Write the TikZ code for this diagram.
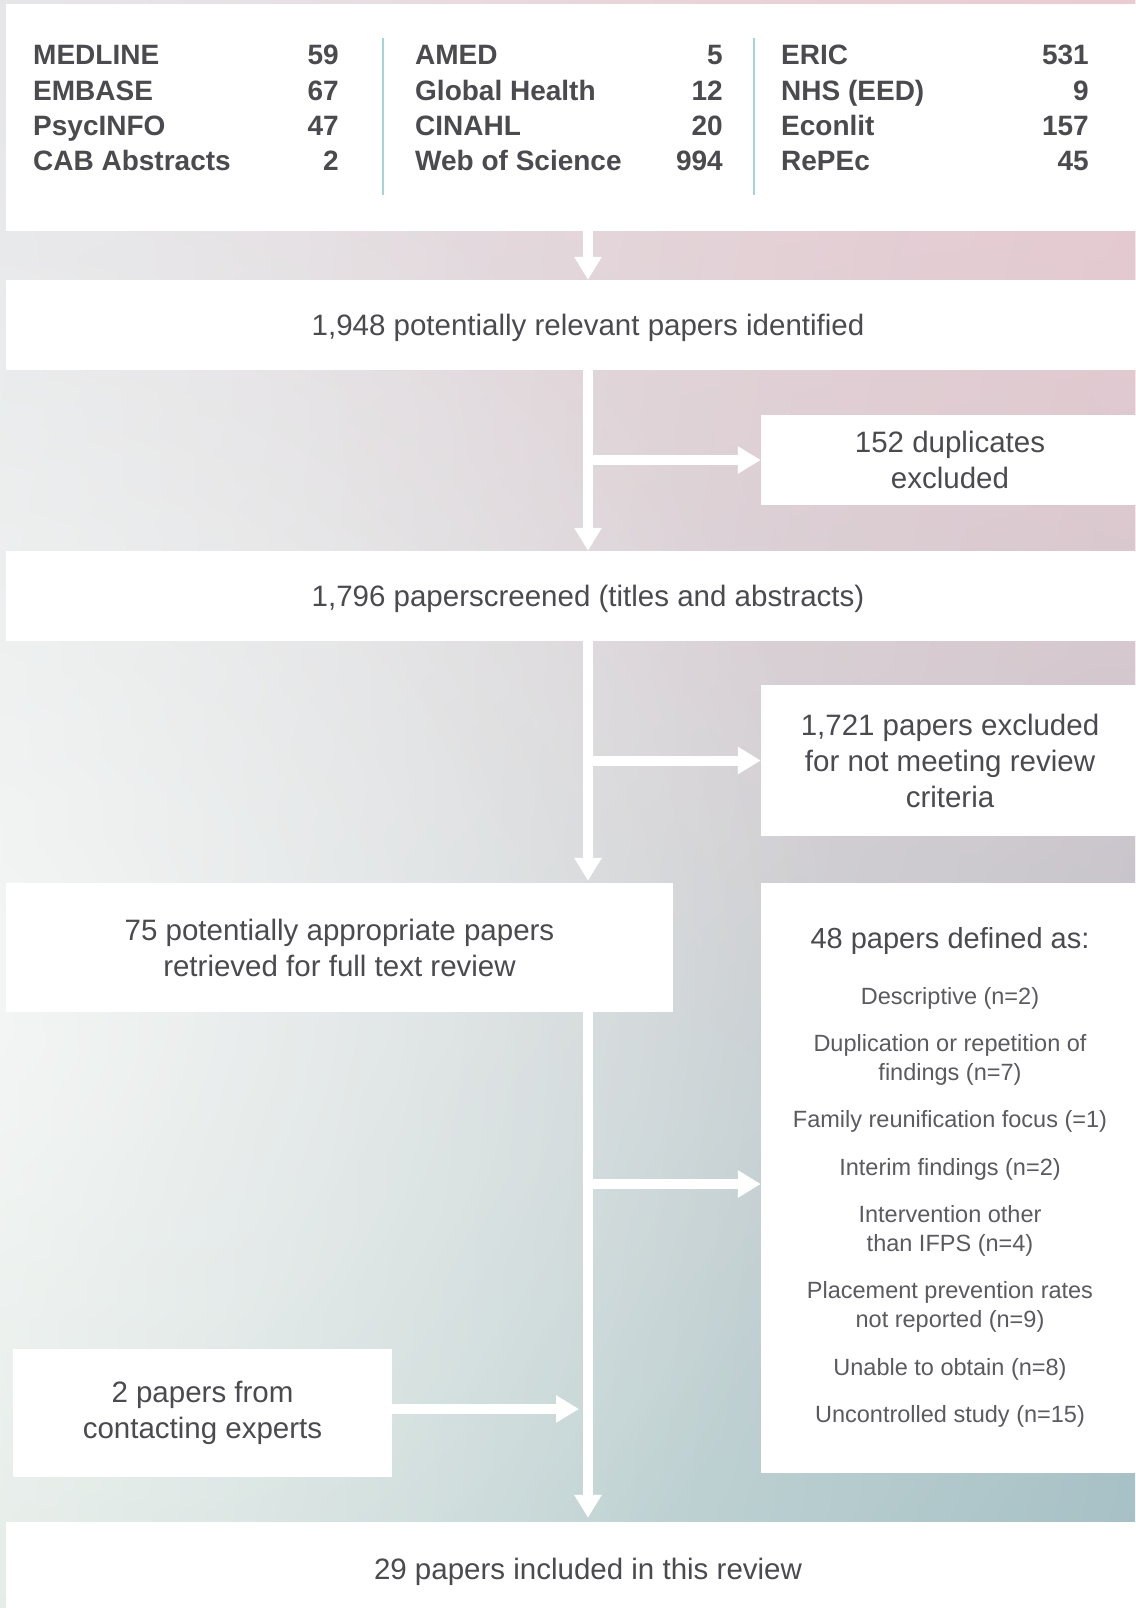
\documentclass[tikz,border=0pt]{standalone}
\usepackage{fontspec}
\setmainfont{Liberation Sans}
\usepackage{tikz}
\usepackage{xcolor}
\usetikzlibrary{arrows.meta}
\usetikzlibrary{shadings}
\usetikzlibrary{fadings}

\definecolor{inktext}{HTML}{4A4A4F}
\definecolor{inklight}{HTML}{5A5A5F}
\definecolor{rulecol}{HTML}{A3D6DA}
\definecolor{bgtl}{HTML}{E6E6E9}
\definecolor{bgtr}{HTML}{EBCBD2}
\definecolor{bgbl}{HTML}{DFE9E3}
\definecolor{bgbr}{HTML}{A2C0C5}

\tikzfading[name=glowfade, inner color=transparent!0, outer color=transparent!100]

\newcommand{\flowbody}{\fontsize{29.5}{36}\selectfont}
\newcommand{\dbfont}{\fontsize{28}{34}\selectfont\bfseries}
\newcommand{\whyhead}{\fontsize{29}{34}\selectfont}
\newcommand{\whyfont}{\fontsize{23.5}{29}\selectfont}

\tikzset{
  box/.style={fill=white, inner sep=0pt, text=inktext, align=center, font=\flowbody},
  lowtext/.style={text depth=0pt},
  flow/.style={draw=white, line width=10pt, -{Triangle[width=26pt,length=23pt]}},
  dbname/.style={anchor=base west, inner sep=0pt, text=inktext, font=\dbfont},
  dbnum/.style={anchor=base east, inner sep=0pt, text=inktext, font=\dbfont},
  why/.style={inner sep=0pt, text=inklight, align=center, font=\whyfont},
}

\begin{document}
\begin{tikzpicture}[x=1pt, y=-1pt]
  \useasboundingbox (0,0) rectangle (1135,1608);
  % background
  \shade[upper left=bgtl, upper right=bgtr, lower left=bgbl, lower right=bgbr]
    (0,0) rectangle (1135,1608);
  \fill[bgtr, opacity=0.45, path fading=glowfade] (1180,320) circle[radius=850pt];
  \fill[white, opacity=0.65, path fading=glowfade] (-100,980) circle[radius=950pt];

  % boxes
  \node[box, minimum width=1164pt, minimum height=227pt] (sources) at (588,117.5) {};
  \node[box, lowtext, minimum width=1164pt, minimum height=90pt] (ident) at (588,325)
    {1,948 potentially relevant papers identified};
  \node[box, minimum width=378pt, minimum height=90pt] (dup) at (950,460)
    {152 duplicates\\excluded};
  \node[box, lowtext, minimum width=1164pt, minimum height=90pt] (screen) at (588,596)
    {1,796 paperscreened (titles and abstracts)};
  \node[box, minimum width=378pt, minimum height=151pt] (excl) at (950,760.5)
    {1,721 papers excluded\\for not meeting review\\criteria};
  \node[box, minimum width=667pt, minimum height=129pt] (full) at (339.5,947.5)
    {75 potentially appropriate papers\\retrieved for full text review};
  \node[box, minimum width=378pt, minimum height=590pt] (defined) at (950,1178) {};
  \node[box, minimum width=379pt, minimum height=128pt] (experts) at (202.5,1413)
    {2 papers from\\contacting experts};
  \node[box, lowtext, minimum width=1164pt, minimum height=94pt] (incl) at (588,1569)
    {29 papers included in this review};

  % databases
  \foreach \name/\num [count=\r] in {MEDLINE/59, EMBASE/67, PsycINFO/47, CAB Abstracts/2} {
    \node[dbname] (dba\r) at (33,29.7+35.3*\r) {\name};
    \node[dbnum] (dban\r) at (339,29.7+35.3*\r) {\num};
  }
  \foreach \name/\num [count=\r] in {AMED/5, Global Health/12, CINAHL/20, Web of Science/994} {
    \node[dbname] (dbb\r) at (415,29.7+35.3*\r) {\name};
    \node[dbnum] (dbbn\r) at (723,29.7+35.3*\r) {\num};
  }
  \foreach \name/\num [count=\r] in {ERIC/531, NHS (EED)/9, Econlit/157, RePEc/45} {
    \node[dbname] (dbc\r) at (781,29.7+35.3*\r) {\name};
    \node[dbnum] (dbcn\r) at (1089,29.7+35.3*\r) {\num};
  }
  \draw[rulecol, line width=1.5pt] (383,38) -- (383,195);
  \draw[rulecol, line width=1.5pt] (754,38) -- (754,195);

  % reasons
  \node[inner sep=0pt, text=inktext, font=\whyhead] (whytitle) at (950,941) {48 papers defined as:};
  \foreach \txt/\yy [count=\k] in {
      {Descriptive (n=2)}/998.5,
      {Duplication or repetition of\\findings (n=7)}/1059.5,
      {Family reunification focus (=1)}/1121.5,
      {Interim findings (n=2)}/1169.5,
      {Intervention other\\than IFPS (n=4)}/1231,
      {Placement prevention rates\\not reported (n=9)}/1306.5,
      {Unable to obtain (n=8)}/1369.5,
      {Uncontrolled study (n=15)}/1416.5}
    \node[why] (why\k) at (950,\yy) {\txt};

  % arrows
  \coordinate (tap) at (588,1184);
  \draw[flow] (sources) -- (ident);
  \draw[flow] (ident) -- (screen);
  \draw[flow] (ident.south |- dup.west) -- (dup.west);
  \draw[flow, shorten >=2pt] (screen.south) -- (screen.south |- full.north);
  \draw[flow] (screen.south |- excl.west) -- (excl.west);
  \draw[flow, shorten >=4pt] (screen.south |- full.south) -- (incl.north);
  \draw[flow] (tap) -- (tap -| defined.west);
  \draw[flow, shorten >=9pt] ([yshift=4pt]experts.east) -- ([yshift=4pt]experts.east -| incl.north);
\end{tikzpicture}
\end{document}
